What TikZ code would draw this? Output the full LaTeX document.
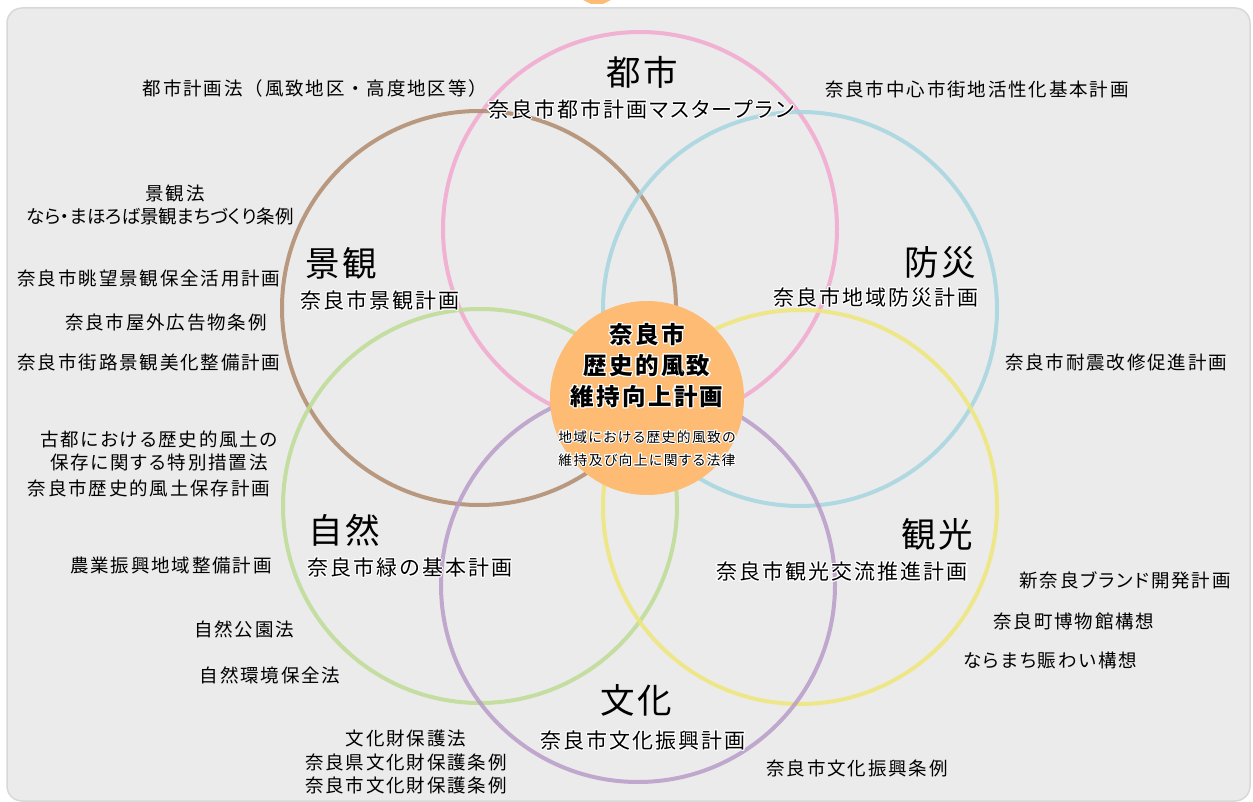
\documentclass[tikz,border=0pt]{standalone}
\usepackage{fontspec}
\setmainfont{Noto Sans CJK JP}[LetterSpace=10,RawFeature=+palt]
\newfontfamily\titlefont{Noto Sans CJK JP}[LetterSpace=6]
\newfontfamily\widefont{Noto Sans CJK JP}[LetterSpace=10]
\newfontfamily\kanafont{Noto Sans CJK JP}[LetterSpace=0,RawFeature=+palt]
\usepackage{contour}
\contourlength{1.1pt}
\newcommand{\halo}[1]{\contour{white}{#1}}

\definecolor{boxgray}{HTML}{EBEBEB}
\definecolor{boxline}{HTML}{D8D8D8}
\definecolor{tabor}{HTML}{FDBB73}
\definecolor{toshi}{HTML}{F2A7CF}
\definecolor{keikan}{HTML}{B08B6E}
\definecolor{bosai}{HTML}{A6D5DF}
\definecolor{shizen}{HTML}{BDDC94}
\definecolor{kanko}{HTML}{EEE77A}
\definecolor{bunka}{HTML}{B89CC8}

\begin{document}
\begin{tikzpicture}[x=1pt,y=-1pt,
    ring/.style={line width=4pt,draw opacity=0.85},
    title/.style={inner sep=0pt,font=\titlefont\fontsize{34.5}{38}\selectfont},
    plan/.style={inner sep=0pt,font=\fontsize{21}{24}\selectfont},
    law/.style={inner sep=0pt,align=center,font=\fontsize{18.5}{23.5}\selectfont},
    core/.style={inner sep=0pt,align=center,font=\bfseries\fontsize{23.5}{31}\selectfont},
    coresub/.style={inner sep=0pt,align=center,font=\fontsize{13.8}{23}\selectfont}]
  \useasboundingbox (0,0) rectangle (1253,802);
  % background panel
  \draw[boxline,fill=boxgray,line width=1.5pt,rounded corners=15pt] (7,8) rectangle (1250,801);
  \fill[tabor] (579,-2) -- (615,-2) -- (603,4) -- (591,4) -- cycle;

  % six themes
  \draw[ring,toshi] (640,229) circle[radius=197pt];
  \draw[ring,keikan] (479,308) circle[radius=197pt];
  \draw[ring,bosai] (800,309) circle[radius=197pt];
  \draw[ring,shizen] (480,506) circle[radius=197pt];
  \draw[ring,kanko] (800,507) circle[radius=197pt];
  \draw[ring,bunka] (638,585) circle[radius=197pt];
  \fill[tabor] (647,398) circle[radius=97pt];

  % titles
  \node[title] (t1) at (642,72) {都市};
  \node[title] (t2) at (341,263) {景観};
  \node[title] (t3) at (940,262) {防災};
  \node[title] (t4) at (344,530) {自然};
  \node[title] (t5) at (937,534) {観光};
  \node[title] (t6) at (636,700) {文化};

  % plans inside the rings
  \node[plan] (p1) at (641,110) {\halo{奈良市都市計画マスタープラン}};
  \node[plan] (p2) at (380,301) {\halo{奈良市景観計画}};
  \node[plan] (p3) at (876,298) {\halo{奈良市地域防災計画}};
  \node[plan] (p4) at (410,568) {\halo{奈良市緑の基本計画}};
  \node[plan] (p5) at (842,572) {\halo{奈良市観光交流推進計画}};
  \node[plan] (p6) at (643,741) {\halo{奈良市文化振興計画}};

  % centre
  \node[core] (c) at (647,366) {\halo{奈良市}\\\halo{歴史的風致}\\\halo{維持向上計画}};
  \node[coresub] (cs) at (647,449) {\halo{地域における歴史的風致の}\\\halo{維持及び向上に関する法律}};

  % laws and plans outside
  \node[law,font=\widefont\fontsize{18.5}{23.5}\selectfont] (l1) at (315,88) {都市計画法（風致地区・高度地区等）};
  \node[law] (l2) at (977,89) {奈良市中心市街地活性化基本計画};
  \node[law] (l3) at (175,193) {景観法};
  \node[law,font=\kanafont\fontsize{18.5}{23.5}\selectfont] (l4) at (160,216) {なら・まほろば景観まちづくり条例};
  \node[law] (l5) at (149,278) {奈良市眺望景観保全活用計画};
  \node[law] (l6) at (166,323) {奈良市屋外広告物条例};
  \node[law] (l7) at (149,362) {奈良市街路景観美化整備計画};
  \node[law] (l8) at (159,451) {古都における歴史的風土の\\保存に関する特別措置法};
  \node[law] (l9) at (149,488) {奈良市歴史的風土保存計画};
  \node[law] (l10) at (171,565) {農業振興地域整備計画};
  \node[law] (l11) at (244,629) {自然公園法};
  \node[law] (l12) at (270,675) {自然環境保全法};
  \node[law] (l13) at (406,762) {文化財保護法\\奈良県文化財保護条例\\奈良市文化財保護条例};
  \node[law] (l14) at (857,768) {奈良市文化振興条例};
  \node[law] (l15) at (1116,362) {奈良市耐震改修促進計画};
  \node[law] (l16) at (1125,580) {新奈良ブランド開発計画};
  \node[law] (l17) at (1074,621) {奈良町博物館構想};
  \node[law] (l18) at (1050,660) {ならまち賑わい構想};
\end{tikzpicture}
\end{document}
